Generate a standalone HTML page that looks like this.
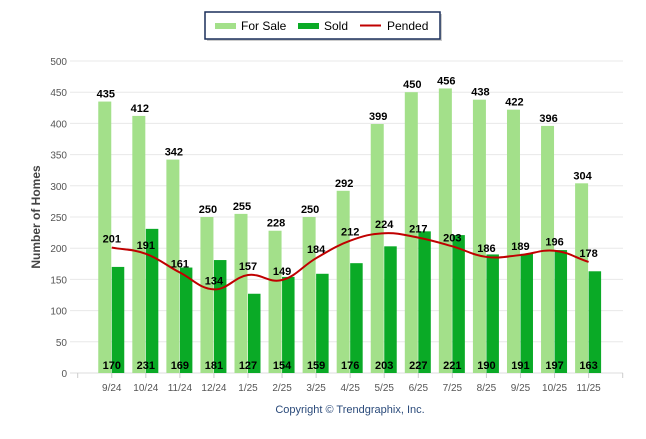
<!DOCTYPE html>
<html><head><meta charset="utf-8"><style>
body{margin:0;background:#fff;width:646px;height:434px;overflow:hidden;font-family:"Liberation Sans",sans-serif}
</style></head><body>
<svg id="chart" width="646" height="434" xmlns="http://www.w3.org/2000/svg" font-family="Liberation Sans, sans-serif"></svg>
<script>
const categories=["9/24","10/24","11/24","12/24","1/25","2/25","3/25","4/25","5/25","6/25","7/25","8/25","9/25","10/25","11/25"];
const forSale=[435,412,342,250,255,228,250,292,399,450,456,438,422,396,304];
const sold=[170,231,169,181,127,154,159,176,203,227,221,190,191,197,163];
const pended=[201,191,161,134,157,149,184,212,224,217,203,186,189,196,178];
const yTicks=[0,50,100,150,200,250,300,350,400,450,500];
const NS="http://www.w3.org/2000/svg";
const svg=document.getElementById('chart');
const x0=77.7,step=34.06,yBase=373,yTop=61;
function xs(i){return x0+(i+1)*step;}
function ys(v){return yBase-(v/500)*(yBase-yTop);}
function el(t,a,p){const e=document.createElementNS(NS,t);for(const k in a)e.setAttribute(k,a[k]);(p||svg).appendChild(e);return e;}
yTicks.forEach(v=>{
 const g=el('line',{x1:70,x2:623,y1:ys(v),y2:ys(v),stroke:v===0?'#ddd':'#e8e8e8','stroke-width':1});
 
 
 const t=el('text',{x:67,y:ys(v)+4,'text-anchor':'end','font-size':10,fill:'#555'});t.textContent=v;
 
 
});
el('line',{x1:77.7,x2:77.7,y1:373,y2:378,stroke:'#ccc'});
el('line',{x1:622.7,x2:622.7,y1:373,y2:378,stroke:'#ccc'});
categories.forEach((c,i)=>{
 const cx=xs(i);
 el('line',{x1:cx,x2:cx,y1:373,y2:378,stroke:'#ccc'});
 const t=el('text',{x:cx,y:391,'text-anchor':'middle','font-size':10,fill:'#555'});t.textContent=c;
 
 
 const b1=el('rect',{x:cx-13.5,y:ys(forSale[i]),width:13,height:yBase-ys(forSale[i]),fill:'#a3e08a'});
 
 
 const b2=el('rect',{x:cx,y:ys(sold[i]),width:12.5,height:yBase-ys(sold[i]),fill:'#0aaa26'});
 
 
});
let d='';
pended.forEach((v,i)=>{const px=xs(i),py=ys(v);
 if(i===0)d='M'+px+','+py;else{const qx=xs(i-1),qy=ys(pended[i-1]);const m=step/2.5;
 const t0=i>1?(py-ys(pended[i-2]))/(2*step):(py-qy)/step;
 const t1=i<pended.length-1?(ys(pended[i+1])-qy)/(2*step):(py-qy)/step;
 d+=' C'+(qx+m)+','+(qy+t0*m)+' '+(px-m)+','+(py-t1*m)+' '+px+','+py;}});
const line=el('path',{d:d,fill:'none',stroke:'#c00000','stroke-width':2});


categories.forEach((c,i)=>{
 const cx=xs(i);
 const a=el('text',{x:cx-6,y:ys(forSale[i])-4,'text-anchor':'middle','font-size':11,'font-weight':'bold',fill:'#000'});a.textContent=forSale[i];
 
 
 const b=el('text',{x:cx,y:369,'text-anchor':'middle','font-size':11,'font-weight':'bold',fill:'#000'});b.textContent=sold[i];
 
 
 const p=el('text',{x:cx,y:ys(pended[i])-5,'text-anchor':'middle','font-size':11,'font-weight':'bold',fill:'#000'});p.textContent=pended[i];
 
 
});
const yt=el('text',{transform:'translate(40,217) rotate(-90)','text-anchor':'middle','font-size':12,'font-weight':'bold',fill:'#444'});yt.textContent='Number of Homes';


const cp=el('text',{x:350,y:413,'text-anchor':'middle','font-size':11,fill:'#2a4a7a'});cp.textContent='Copyright © Trendgraphix, Inc.';


const lg=el('g',{});


el('rect',{x:207,y:14,width:235,height:27,fill:'#999',opacity:0.5},lg);
el('rect',{x:205,y:12,width:235,height:27,fill:'#fff',stroke:'#1a2f5a','stroke-width':1.5},lg);
el('rect',{x:215,y:23,width:21,height:6,fill:'#a3e08a'},lg);
el('rect',{x:298,y:23,width:21,height:6,fill:'#0aaa26'},lg);
el('line',{x1:360,x2:381,y1:25.5,y2:25.5,stroke:'#c00000','stroke-width':2},lg);
[['For Sale',241],['Sold',324],['Pended',387]].forEach(([t,x])=>{const e=el('text',{x:x,y:30,'font-size':12,fill:'#000'},lg);e.textContent=t;
 
 });
</script>
</body></html>
